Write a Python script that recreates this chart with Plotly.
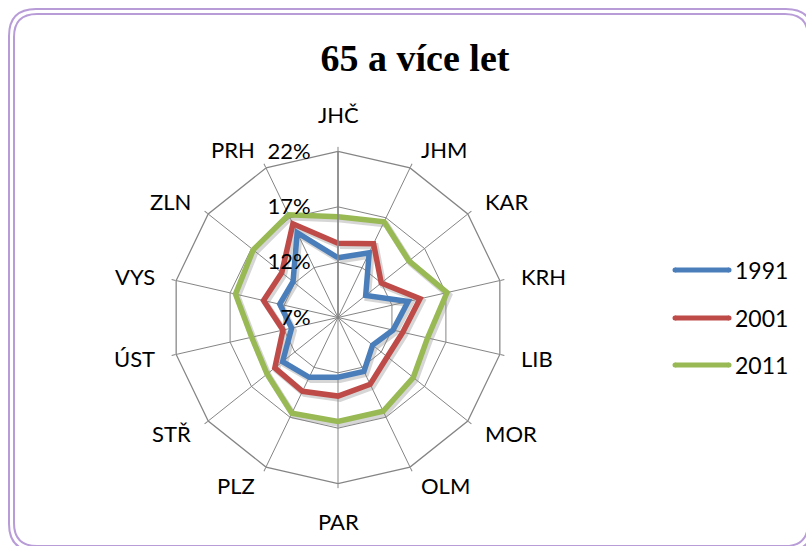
import math
import plotly.graph_objects as go

W, H = 806, 546

categories = ["JHČ", "JHM", "KAR", "KRH", "LIB", "MOR", "OLM",
              "PAR", "PLZ", "STŘ", "ÚST", "VYS", "ZLN", "PRH"]
v1991 = [12.4, 13.5, 10.2, 13.5, 12.1, 11.0, 12.4, 12.4, 13.0, 13.4, 11.3, 12.4, 12.2, 15.5]
v2001 = [13.7, 14.4, 12.0, 14.6, 13.0, 12.7, 13.7, 14.1, 14.4, 14.3, 12.1, 13.9, 13.5, 16.4]
v2011 = [16.1, 16.6, 15.2, 17.1, 15.3, 15.7, 16.4, 16.4, 16.6, 15.2, 15.0, 16.5, 16.8, 17.3]
series_names = ["1991", "2001", "2011"]
series_values = [v1991, v2001, v2011]
series_colors = ["#4A7EBB", "#BE4B48", "#98B954"]
radial_ticks = [7, 12, 17, 22]
title_text = "65 a více let"

# chart centre / radius in pixels
cx, cy, R = 338, 317.5, 166

fx = lambda v: v / W
fy = lambda v: 1 - v / H

fig = go.Figure()
# soft shadows (drawn in a lower, slightly offset polar subplot)
for name, vals in zip(series_names, series_values):
    fig.add_trace(go.Scatterpolar(
        r=vals + vals[:1], theta=categories + categories[:1], subplot="polar",
        mode="lines", showlegend=False, hoverinfo="skip",
        line=dict(color="rgba(0,0,0,0.16)", width=6.5),
    ))
for name, vals, col in zip(series_names, series_values, series_colors):
    fig.add_trace(go.Scatterpolar(
        r=vals + vals[:1], theta=categories + categories[:1], subplot="polar2",
        mode="lines", name=name, showlegend=False,
        line=dict(color=col, width=5.5),
    ))


def rounded_rect(x0, y0, x1, y1, r):
    return (f"M {fx(x0 + r)} {fy(y0)} L {fx(x1 - r)} {fy(y0)} "
            f"Q {fx(x1)} {fy(y0)} {fx(x1)} {fy(y0 + r)} "
            f"L {fx(x1)} {fy(y1 - r)} Q {fx(x1)} {fy(y1)} {fx(x1 - r)} {fy(y1)} "
            f"L {fx(x0 + r)} {fy(y1)} Q {fx(x0)} {fy(y1)} {fx(x0)} {fy(y1 - r)} "
            f"L {fx(x0)} {fy(y0 + r)} Q {fx(x0)} {fy(y0)} {fx(x0 + r)} {fy(y0)} Z")


frame_color = "#B89CD8"
shapes = [
    dict(type="path", xref="paper", yref="paper", path=rounded_rect(9, 9, 813, 551, 27),
         line=dict(color=frame_color, width=2)),
    dict(type="path", xref="paper", yref="paper", path=rounded_rect(14, 14, 808, 546, 23),
         line=dict(color=frame_color, width=2)),
]

annotations = []
# category labels around the radar (Excel-like placement)
n = len(categories)
for i, cat in enumerate(categories):
    a = 2 * math.pi * i / n
    dx, dy = math.sin(a), -math.cos(a)
    if abs(dx) < 0.1:
        rl = R + 22
        xa, ya = "center", ("bottom" if dy < 0 else "top")
    else:
        rl = R + 20
        xa, ya = ("left" if dx > 0 else "right"), "middle"
    annotations.append(dict(xref="paper", yref="paper", x=fx(cx + dx * rl), y=fy(cy + dy * rl),
                            xanchor=xa, yanchor=ya, showarrow=False, text=cat,
                            font=dict(family="Lato", size=22, color="black")))

# custom legend (line swatch + label)
leg_y = [270, 318, 365]
for name, col, ly in zip(series_names, series_colors, leg_y):
    shapes.append(dict(type="line", xref="paper", yref="paper",
                       x0=fx(675), x1=fx(729), y0=fy(ly), y1=fy(ly),
                       line=dict(color=col, width=5)))
    for ex in (675, 729):
        shapes.append(dict(type="circle", xref="paper", yref="paper",
                           x0=fx(ex - 2.5), x1=fx(ex + 2.5), y0=fy(ly + 2.5), y1=fy(ly - 2.5),
                           fillcolor=col, line=dict(width=0)))
    annotations.append(dict(xref="paper", yref="paper", x=fx(733), y=fy(ly),
                            xanchor="left", yanchor="middle", showarrow=False,
                            text=name, font=dict(family="Lato", size=23, color="black")))

grid = "#858585"
sx, sy = 2, 2.5  # shadow offset px
fig.update_layout(
    width=W, height=H, autosize=False,
    margin=dict(l=0, r=0, t=0, b=0),
    paper_bgcolor="white", plot_bgcolor="white",
    showlegend=False,
    title=dict(text=title_text, x=415 / W, xanchor="center", y=1 - 58 / H, yanchor="middle",
               font=dict(family="Liberation Serif", size=38, color="black", weight="bold")),
    polar=dict(
        domain=dict(x=[(cx - R + sx) / W, (cx + R + sx) / W],
                    y=[1 - (cy + R + sy) / H, 1 - (cy - R + sy) / H]),
        bgcolor="white", gridshape="linear",
        angularaxis=dict(direction="clockwise", rotation=90, visible=False),
        radialaxis=dict(range=[7, 22], visible=False),
    ),
    polar2=dict(
        domain=dict(x=[(cx - R) / W, (cx + R) / W], y=[1 - (cy + R) / H, 1 - (cy - R) / H]),
        bgcolor="rgba(0,0,0,0)",
        gridshape="linear",
        angularaxis=dict(direction="clockwise", rotation=90, showline=True, linecolor=grid,
                         linewidth=1.25, gridcolor=grid, gridwidth=1.25,
                         ticks="outside", ticklen=4, tickcolor=grid, tickwidth=1.25,
                         showticklabels=False),
        radialaxis=dict(range=[7, 22], tickvals=radial_ticks,
                        ticktext=[f"{t}%" for t in radial_ticks],
                        angle=90, side="counterclockwise", showline=True, linecolor=grid,
                        linewidth=1.5, gridcolor=grid, gridwidth=1.25,
                        ticks="outside", ticklen=19, tickcolor="rgba(0,0,0,0)",
                        tickangle=90,
                        tickfont=dict(family="Lato", size=22, color="black")),
    ),
    shapes=shapes,
    annotations=annotations,
)

fig.write_html("out.html", config={"displayModeBar": False},
               post_script="document.body.style.margin='0';")
